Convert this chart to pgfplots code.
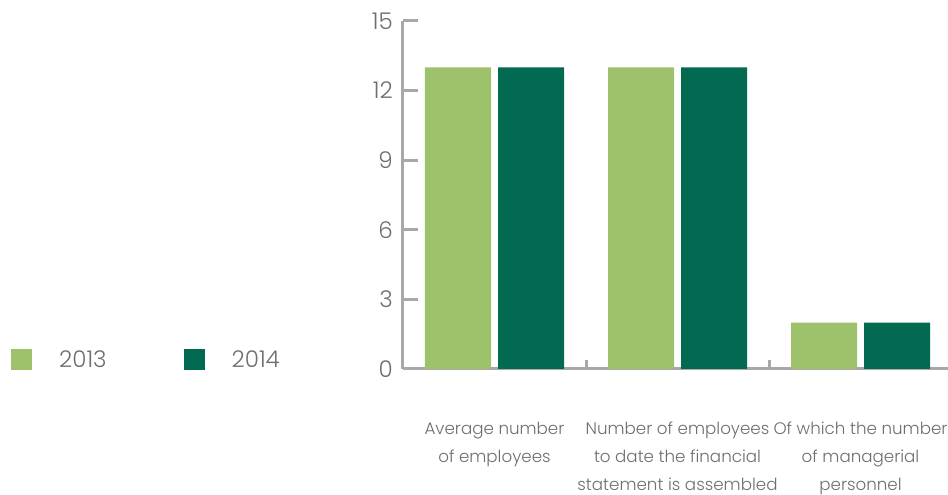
\documentclass[border=0pt]{standalone}
\usepackage{pgfplots}
\usepackage{pgfplotstable}
\pgfplotsset{compat=1.18}
\usepackage{fontspec}
\setmainfont{Poppins}[UprightFont=* Light]
\definecolor{lightgreen}{RGB}{157,194,107}
\definecolor{darkgreen}{RGB}{2,106,80}
\definecolor{axisgray}{RGB}{168,168,171}
\definecolor{textgray}{RGB}{110,110,112}
\pgfplotsset{sqlegend/.style={legend image code/.code={\fill[##1] (0pt,-10.5pt) rectangle (21pt,10.5pt);}}}
\pgfplotstableread{
x y2013 y2014
0 13 13
1 13 13
2 2 2
}\data
\begin{document}
\begin{tikzpicture}[x=1pt,y=1pt]
\begin{axis}[
  at={(403pt,126pt)}, anchor=south west,
  scale only axis, width=549pt, height=348pt,
  xmin=-0.5, xmax=2.5, ymin=0, ymax=15,
  ybar=7pt, bar width=66pt,
  ytick={0,3,...,15},
  xtick={0,1,2},
  xticklabels={{Average number\\of employees},{Number of employees\\to date the financial\\statement is assembled},{Of which the number\\of managerial\\personnel}},
  minor xtick={0.5,1.5},
  axis x line*=bottom, axis y line*=left,
  axis line style={-, draw=axisgray, line width=3pt},
  tick align=inside,
  major tick length=15pt, minor tick length=9pt,
  tick style={draw=axisgray, line width=3pt},
  major x tick style={draw=none},
  /pgf/number format/assume math mode=true,
  yticklabel style={inner sep=0pt, xshift=-10pt, font=\fontsize{23}{27}\selectfont, text=textgray},
  xticklabel style={inner sep=0pt, yshift=-53pt, align=center, font=\fontsize{16.7}{28}\selectfont, text=textgray},
  legend columns=2,
  legend style={at={(-0.714,0.0273)}, anchor=west, draw=none, fill=none, inner sep=0pt,
    nodes={inner sep=0pt, text=textgray, font=\fontsize{23}{27}\selectfont},
    /tikz/every odd column/.append style={column sep=27pt},
    /tikz/every even column/.append style={column sep=77pt}},
]
\addplot[fill=lightgreen, draw=none, sqlegend] table[x=x, y=y2013] {\data};
\addplot[fill=darkgreen, draw=none, sqlegend] table[x=x, y=y2014] {\data};
\legend{2013,2014}
\end{axis}
\pgfresetboundingbox
\useasboundingbox (0,0) rectangle (948,495);
\end{tikzpicture}
\end{document}
